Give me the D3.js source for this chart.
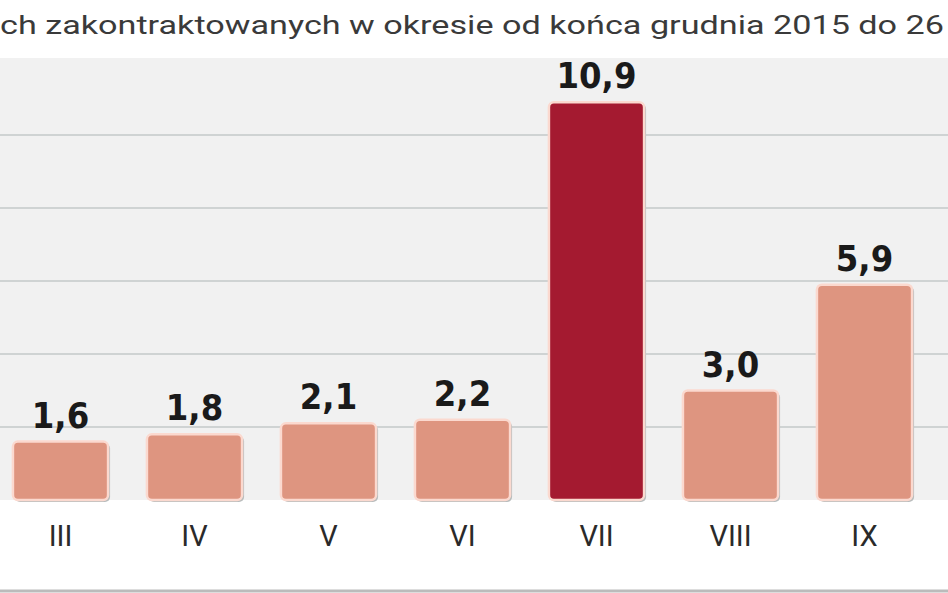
<!DOCTYPE html>
<html><head><meta charset="utf-8">
<script src="https://cdn.jsdelivr.net/npm/d3@7"></script>
<style>body{margin:0;background:#fff;overflow:hidden}</style>
</head><body>
<svg id="chart" width="948" height="593"></svg>
<script>
const months = ['III', 'IV', 'V', 'VI', 'VII', 'VIII', 'IX'];
const values = [1.6, 1.8, 2.1, 2.2, 10.9, 3.0, 5.9];
const highlight = ['VII'];
const gridTicks = [2, 4, 6, 8, 10];
const title = 'ch zakontraktowanych w okresie od końca grudnia 2015 do 26';

const svg = d3.select('#chart');
const baseY = 500;

const x = d3.scaleBand().domain(months).range([-6.5, 931.5]).paddingInner(0.29).paddingOuter(0.145);
const y = d3.scaleLinear().domain([0, 10]).range([baseY, 135]);

svg.append('text').attr('x', 0).attr('y', 34)
   .attr('font-family', 'Roboto, "DejaVu Sans"').attr('font-size', 26)
   .attr('textLength', 944).attr('lengthAdjust', 'spacingAndGlyphs')
   .attr('fill', '#3a3a3a').text(title);

svg.append('rect').attr('x', 0).attr('y', 58).attr('width', 948).attr('height', baseY - 58)
   .attr('fill', '#f1f1f1');

svg.selectAll('line.grid').data(gridTicks).enter().append('line')
   .attr('x1', 0).attr('x2', 948)
   .attr('y1', d => y(d)).attr('y2', d => y(d))
   .attr('stroke', '#cfd3d3').attr('stroke-width', 2);

// shadow
svg.selectAll('rect.shadow').data(values).enter().append('rect')
   .attr('x', (d, i) => x(months[i]) + 2).attr('y', d => y(d) + 2)
   .attr('width', x.bandwidth()).attr('height', d => baseY - y(d))
   .attr('rx', 5).attr('fill', '#b9bdbd');

svg.selectAll('rect.bar').data(values).enter().append('rect')
   .attr('x', (d, i) => x(months[i])).attr('y', d => y(d))
   .attr('width', x.bandwidth()).attr('height', d => baseY - y(d))
   .attr('rx', 5)
   .attr('fill', (d, i) => highlight.includes(months[i]) ? '#a41a30' : '#de9580')
   .attr('stroke', '#fbd9cf').attr('stroke-width', 2.5);

svg.selectAll('text.val').data(values).enter().append('text')
   .attr('x', (d, i) => x(months[i]) + x.bandwidth() / 2).attr('y', d => y(d) - 14)
   .attr('text-anchor', 'middle')
   .attr('font-family', '"DejaVu Sans Condensed", "Liberation Sans Narrow", sans-serif')
   .attr('font-stretch', 'condensed')
   .attr('font-weight', 'bold').attr('font-size', 36).attr('fill', '#1a1a1a')
   .text(d => d.toFixed(1).replace('.', ','));

svg.selectAll('text.cat').data(months).enter().append('text')
   .attr('x', d => x(d) + x.bandwidth() / 2).attr('y', 546)
   .attr('text-anchor', 'middle')
   .attr('font-family', 'Roboto, "DejaVu Sans"').attr('font-size', 29).attr('fill', '#2a2a2a')
   .text(d => d);

svg.append('line').attr('x1', 0).attr('x2', 948).attr('y1', 591).attr('y2', 591)
   .attr('stroke', '#bbbbbb').attr('stroke-width', 3);
</script>
</body></html>
